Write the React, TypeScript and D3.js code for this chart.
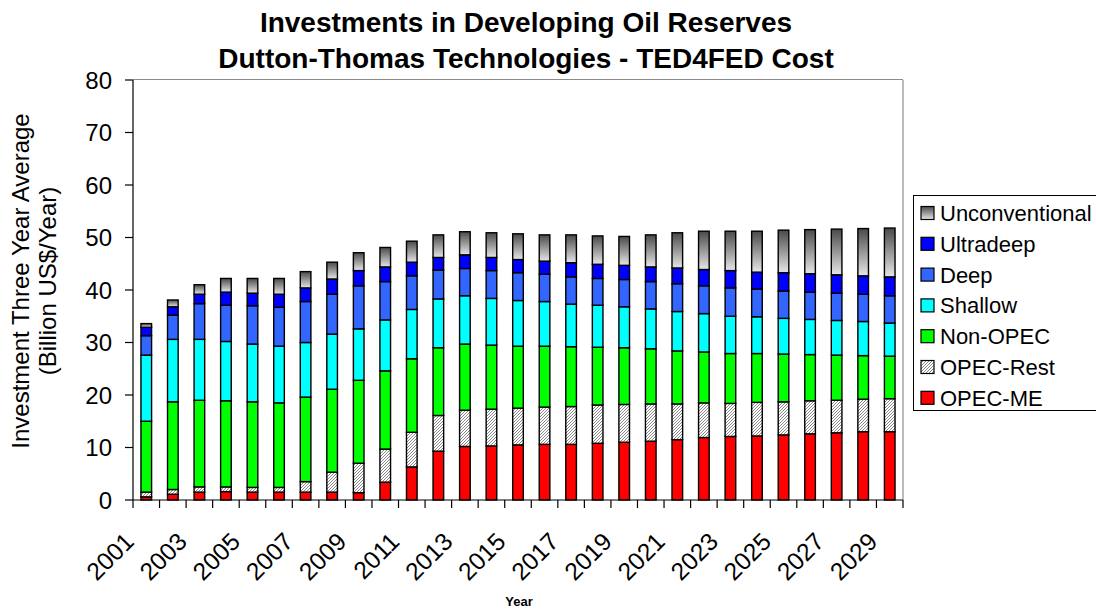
import React from "react";
import * as d3 from "d3";

const years = ["2001","2002","2003","2004","2005","2006","2007","2008","2009","2010","2011","2012","2013","2014","2015","2016","2017","2018","2019","2020","2021","2022","2023","2024","2025","2026","2027","2028","2029"];
const opecME = [0.6,1.1,1.5,1.6,1.5,1.5,1.5,1.5,1.4,3.4,6.3,9.3,10.2,10.3,10.5,10.6,10.6,10.8,11.0,11.2,11.5,11.9,12.1,12.2,12.4,12.6,12.8,13.0,13.0];
const opecRest = [0.9,0.9,1.0,0.9,0.9,0.9,2.0,3.8,5.6,6.3,6.6,6.8,6.9,7.0,7.0,7.1,7.2,7.3,7.2,7.1,6.8,6.6,6.3,6.4,6.3,6.3,6.2,6.2,6.3];
const nonOpec = [13.5,16.7,16.5,16.4,16.3,16.1,16.1,15.8,15.8,14.9,14.0,12.9,12.6,12.2,11.8,11.6,11.4,11.0,10.8,10.5,10.1,9.7,9.5,9.3,9.1,8.8,8.6,8.3,8.1];
const shallow = [12.6,11.9,11.6,11.3,11.0,10.8,10.4,10.5,9.8,9.7,9.4,9.3,9.2,8.9,8.7,8.5,8.1,8.0,7.8,7.6,7.5,7.3,7.1,7.0,6.8,6.7,6.6,6.5,6.3];
const deep = [3.7,4.6,6.8,6.9,7.3,7.4,7.8,7.6,8.2,7.3,6.4,5.5,5.2,5.3,5.3,5.2,5.2,5.1,5.2,5.2,5.3,5.3,5.4,5.3,5.2,5.2,5.2,5.2,5.2];
const ultradeep = [1.6,1.6,1.8,2.5,2.4,2.5,2.6,2.9,2.9,2.8,2.6,2.4,2.6,2.5,2.5,2.5,2.7,2.7,2.7,2.8,3.0,3.1,3.3,3.2,3.5,3.5,3.5,3.5,3.6];
const unconventional = [0.7,1.3,1.8,2.6,2.8,3.0,3.1,3.2,3.4,3.7,4.0,4.3,4.4,4.7,4.9,5.0,5.3,5.4,5.5,6.1,6.7,7.3,7.5,7.8,8.1,8.4,8.7,9.0,9.3];
const seriesNames = ["OPEC-ME","OPEC-Rest","Non-OPEC","Shallow","Deep","Ultradeep","Unconventional"];
const seriesValues = [opecME, opecRest, nonOpec, shallow, deep, ultradeep, unconventional];
const yTicks = [0,10,20,30,40,50,60,70,80];
const xLabels = years.filter((_, i) => i % 2 === 0);

const fills: Record<string, string> = {
  "OPEC-ME": "#ff0000",
  "OPEC-Rest": "url(#hatch)",
  "Non-OPEC": "#00ff00",
  "Shallow": "#00ffff",
  "Deep": "#3366ff",
  "Ultradeep": "#0000ff",
  "Unconventional": "url(#greyGrad)",
};

export default function App() {
  const W = 1096, H = 610;
  const left = 133, right = 903, top = 80, bottom = 500;
  const x = d3.scaleBand<string>().domain(years).range([left, right]).paddingInner(0.6).paddingOuter(0.3);
  const y = d3.scaleLinear().domain([0, 80]).range([bottom, top]);
  const table = years.map((yr, i) => {
    const row: any = { year: yr };
    seriesNames.forEach((s, k) => (row[s] = seriesValues[k][i]));
    return row;
  });
  const stacked = d3.stack<any>().keys(seriesNames)(table);
  const step = x.step();
  const boundaries = d3.range(years.length + 1).map((k) => left + k * step);
  const font = "'Liberation Sans', Arial, Helvetica, sans-serif";
  const legendItems = [...seriesNames].reverse();

  return (
    <svg width={W} height={H} style={{ position: "absolute", left: 0, top: 0, background: "#fff" }} fontFamily={font}>
      <defs>
        <pattern id="hatch" patternUnits="userSpaceOnUse" width="3" height="3">
          <rect width="3" height="3" fill="#ffffff" />
          <path d="M-1,1 l2,-2 M0,3 l3,-3 M2,4 l2,-2" stroke="#6a6a6a" strokeWidth="0.8" />
        </pattern>
        <linearGradient id="greyGrad" x1="0" y1="0" x2="0" y2="1">
          <stop offset="0" stopColor="#4a4a4a" />
          <stop offset="1" stopColor="#e6e6e6" />
        </linearGradient>
      </defs>
      <rect x={0} y={0} width={W} height={H} fill="#fff" />
      {/* plot area border */}
      <line x1={left} x2={right} y1={top - 0.5} y2={top - 0.5} stroke="#8c8c8c" strokeWidth={1.2} />
      <line x1={right} x2={right} y1={top} y2={bottom} stroke="#8c8c8c" strokeWidth={1.2} />
      {/* bars */}
      {stacked.map((layer) => (
        <g key={layer.key} fill={fills[layer.key]}>
          {layer.map((d, i) => (
            <rect
              key={i}
              x={x(years[i])!}
              width={x.bandwidth()}
              y={y(d[1])}
              height={Math.max(0, y(d[0]) - y(d[1]))}
              stroke="#000"
              strokeWidth={1.4}
            />
          ))}
        </g>
      ))}
      {/* y axis */}
      <line x1={left} x2={left} y1={top} y2={bottom} stroke="#000" strokeWidth={1.2} />
      {yTicks.map((t) => (
        <g key={t}>
          <line x1={left - 8} x2={left} y1={y(t)} y2={y(t)} stroke="#000" strokeWidth={1.2} />
          <text x={112} y={y(t)} dy="0.36em" textAnchor="end" fontSize={24}>{t}</text>
        </g>
      ))}
      {/* x axis */}
      <line x1={left} x2={right} y1={bottom} y2={bottom} stroke="#000" strokeWidth={1.2} />
      {boundaries.map((b, k) => (
        <line key={k} x1={b} x2={b} y1={bottom} y2={bottom + 8} stroke="#000" strokeWidth={1.2} />
      ))}
      {xLabels.map((yr) => {
        const cx = x(yr)! + x.bandwidth() / 2;
        return (
          <text key={yr} transform={`translate(${cx - 23},${bottom + 31}) rotate(-45)`} textAnchor="end" dy="0.7em" fontSize={24.5}>
            {yr}
          </text>
        );
      })}
      <text x={519} y={606} textAnchor="middle" fontSize={13} fontWeight="bold">Year</text>
      {/* y title */}
      <text transform="translate(29,281) rotate(-90)" textAnchor="middle" fontSize={24}>Investment Three Year Average</text>
      <text transform="translate(56,281) rotate(-90)" textAnchor="middle" fontSize={24}>(Billion US$/Year)</text>
      {/* title */}
      <text x={526} y={32} textAnchor="middle" fontSize={28} fontWeight="bold">Investments in Developing Oil Reserves</text>
      <text x={526} y={68} textAnchor="middle" fontSize={28} fontWeight="bold">Dutton-Thomas Technologies - TED4FED Cost</text>
      {/* legend */}
      <rect x={913.5} y={195.5} width={190} height={215} fill="#fff" stroke="#000" strokeWidth={1} />
      {legendItems.map((s, i) => {
        const cy = 213 + i * 30.8;
        return (
          <g key={s}>
            <rect x={921} y={cy - 6.5} width={13} height={13} fill={fills[s]} stroke="#000" strokeWidth={1.2} />
            <text x={940} y={cy} dy="0.36em" fontSize={22}>{s}</text>
          </g>
        );
      })}
    </svg>
  );
}
